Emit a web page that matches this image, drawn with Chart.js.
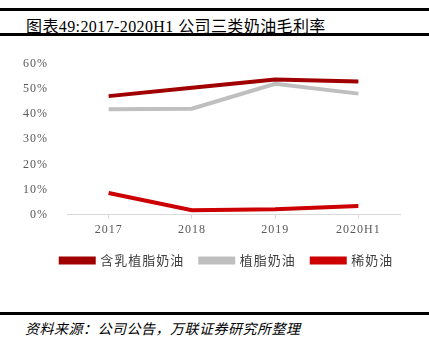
<!DOCTYPE html>
<html>
<head>
<meta charset="utf-8">
<script src="https://cdn.jsdelivr.net/npm/chart.js@4/dist/chart.umd.min.js"></script>
<style>
  body { margin: 0; width: 429px; height: 354px; background: #fff; position: relative; overflow: hidden; }
  .rule { position: absolute; left: 0; width: 429px; background: #000; }
  #title { position: absolute; left: 26px; top: 13px; font: 16px "Liberation Serif", "Noto Sans CJK SC", serif; letter-spacing: 0.4px; color: #000; white-space: nowrap; }
  #source { position: absolute; left: 25px; top: 318px; font: italic 14px "Liberation Serif", "Noto Sans CJK SC", serif; letter-spacing: 0.5px; color: #000; white-space: nowrap; }
  #wrap { position: absolute; left: 0; top: 40px; width: 429px; height: 240px; }
</style>
</head>
<body>
<div class="rule" style="top:8px;height:3px;"></div>
<div id="title">图表49:2017-2020H1 公司三类奶油毛利率</div>
<div class="rule" style="top:33px;height:3px;"></div>
<div id="wrap"><canvas id="c"></canvas></div>
<div class="rule" style="top:312px;height:3px;"></div>
<div id="source">资料来源：公司公告，万联证券研究所整理</div>
<script>
// --- DATA ---
const categories = ['2017', '2018', '2019', '2020H1'];
const milkVegCream = [47.2, 50.5, 53.8, 53.0];   // 含乳植脂奶油
const vegCream = [42.0, 42.2, 52.1, 48.2];       // 植脂奶油
const dairyCream = [8.6, 1.7, 2.1, 3.4];         // 稀奶油
const yTicks = [0, 10, 20, 30, 40, 50, 60];

// canvas letter spacing (the source chart spaces its glyphs a bit)
// and nudge the legend, it sits off-centre in the original
const tweaks = {
    id: 'tweaks',
    beforeLayout(chart) { chart.ctx.letterSpacing = '1px'; },
    afterLayout(chart) {
        chart.legend.left += 27;
        chart.legend.right += 27;
        chart.legend.top -= 3;
        chart.legend.bottom -= 3;
    },
    beforeDraw(chart) { chart.ctx.letterSpacing = '1px'; }
};

const ctx = document.getElementById('c').getContext('2d');
const chart = new Chart(ctx, {
    type: 'line',
    data: {
        labels: categories,
        datasets: [
            { label: '含乳植脂奶油', data: milkVegCream, borderColor: '#a00000', backgroundColor: '#a00000' },
            { label: '植脂奶油', data: vegCream, borderColor: '#bfbfbf', backgroundColor: '#bfbfbf' },
            { label: '稀奶油', data: dairyCream, borderColor: '#cc0000', backgroundColor: '#cc0000' }
        ]
    },
    options: {
        responsive: true,
        maintainAspectRatio: false,
        animation: false,
        elements: {
            line: { borderWidth: 4, tension: 0, borderCapStyle: 'butt' },
            point: { radius: 0 }
        },
        layout: { padding: { left: 0, right: 29, top: 24, bottom: 0 } },
        plugins: {
            tooltip: { enabled: false },
            legend: {
                position: 'bottom',
                labels: {
                    boxWidth: 33,
                    boxHeight: 4,
                    padding: 16,
                    color: '#404040',
                    font: { family: '"Noto Sans CJK SC", sans-serif', size: 13 }
                }
            }
        },
        scales: {
            x: {
                offset: true,
                grid: { drawOnChartArea: false, drawTicks: true, tickLength: 4, color: '#d9d9d9' },
                border: { color: '#d9d9d9' },
                ticks: { color: '#595959', padding: 4, font: { family: '"Liberation Serif", serif', size: 12 } }
            },
            y: {
                min: 0,
                max: 60,
                afterFit(scale) { scale.width = 67; },
                afterBuildTicks(scale) { scale.ticks = yTicks.map(v => ({ value: v })); },
                grid: { display: false },
                border: { display: false },
                ticks: {
                    padding: 11,
                    color: '#595959',
                    font: { family: '"Liberation Serif", serif', size: 12 },
                    callback: v => v + '%'
                }
            }
        }
    },
    plugins: [tweaks]
});
</script>
</body>
</html>
